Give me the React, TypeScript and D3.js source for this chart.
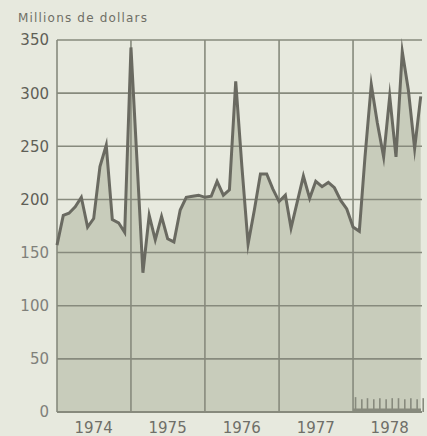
import React from "react";
import * as d3 from "d3";

const title = "Millions de dollars";
const yTicks = [0, 50, 100, 150, 200, 250, 300, 350];
const yearLabels = ["1974", "1975", "1976", "1977", "1978"];
const startYear = 1974;

// Monthly values, Jan 1974 – Dec 1978 (millions of dollars)
const monthlyValues = [
  157, 185, 187, 193, 202, 174, 182, 231, 251, 181, 178, 169,
  343, 232, 131, 185, 162, 184, 163, 160, 190, 202, 203, 204,
  202, 203, 217, 204, 209, 311, 232, 158, 190, 224, 224, 210,
  198, 204, 173, 198, 222, 201, 217, 212, 216, 211, 199, 191,
  174, 170, 240, 308, 272, 240, 297, 240, 339, 303, 248, 297,
];

// Small monthly series shown as bars in 1978
const bars1978 = [14, 12, 13, 12, 13, 12, 13, 13, 12, 13, 12, 13];

const W = 427;
const H = 436;
const M = { left: 57, right: 422, top: 40, bottom: 412 };

export default function App() {
  const x = d3
    .scaleTime()
    .domain([new Date(startYear, 0, 1), new Date(startYear + 5, 0, 1)])
    .range([M.left, M.left + 5 * 74]);
  const y = d3.scaleLinear().domain([0, 350]).range([M.bottom, M.top]);

  const data = monthlyValues.map((v, i) => ({
    date: new Date(startYear, i, 1),
    v,
  }));

  const area = d3
    .area<{ date: Date; v: number }>()
    .x((d) => x(d.date))
    .y0(y(0))
    .y1((d) => y(d.v));
  const line = d3
    .line<{ date: Date; v: number }>()
    .x((d) => x(d.date))
    .y((d) => y(d.v));

  const bg = "#e7e9de";
  const fill = "#c8ccbb";
  const grid = "#878a7d";
  const lineCol = "#6a6a61";

  const years = d3.range(0, 5).map((k) => new Date(startYear + k, 0, 1));

  return (
    <svg
      width={W}
      height={H}
      style={{ position: "absolute", left: 0, top: 0, background: bg }}
      fontFamily="DejaVu Sans, sans-serif"
    >
      <rect x={0} y={0} width={W} height={H} fill={bg} />
      <text x={18} y={22} fontSize={12} fill="#6f6f66" textLength={129}>
        {title}
      </text>
      <path d={area(data) || ""} fill={fill} />
      {/* horizontal grid */}
      {yTicks.map((t) => (
        <line
          key={t}
          x1={M.left}
          x2={M.right}
          y1={y(t)}
          y2={y(t)}
          stroke={grid}
          strokeWidth={t === 0 ? 2.2 : 1.6}
        />
      ))}
      {/* vertical grid at year boundaries */}
      {years.map((d, i) => (
        <line
          key={i}
          x1={x(d)}
          x2={x(d)}
          y1={M.top}
          y2={M.bottom}
          stroke={grid}
          strokeWidth={1.6}
        />
      ))}
      {/* 1978 small bars */}
      {bars1978.map((v, i) => {
        const xx = x(new Date(startYear + 4, i, 1)) + 2.5;
        return (
          <line
            key={i}
            x1={xx}
            x2={xx}
            y1={y(0)}
            y2={y(v)}
            stroke={grid}
            strokeWidth={1.6}
          />
        );
      })}
      <line
        x1={x(new Date(startYear + 4, 0, 1))}
        x2={M.right - 1}
        y1={y(2)}
        y2={y(2)}
        stroke={grid}
        strokeWidth={2.5}
      />
      <path
        d={line(data) || ""}
        fill="none"
        stroke={lineCol}
        strokeWidth={3}
        strokeLinejoin="miter"
        strokeMiterlimit={10}
      />
      {/* y tick labels */}
      {yTicks.map((t) => (
        <text
          key={t}
          x={49}
          y={y(t)}
          dy="0.36em"
          textAnchor="end"
          fontSize={15}
          fill={t >= 200 ? "#5f5f57" : "#80807a"}
        >
          {t}
        </text>
      ))}
      {/* x year labels */}
      {yearLabels.map((l, i) => (
        <text
          key={l}
          x={x(new Date(startYear + i, 6, 1))}
          y={433}
          textAnchor="middle"
          fontSize={15}
          fill="#6f6f68"
        >
          {l}
        </text>
      ))}
    </svg>
  );
}
